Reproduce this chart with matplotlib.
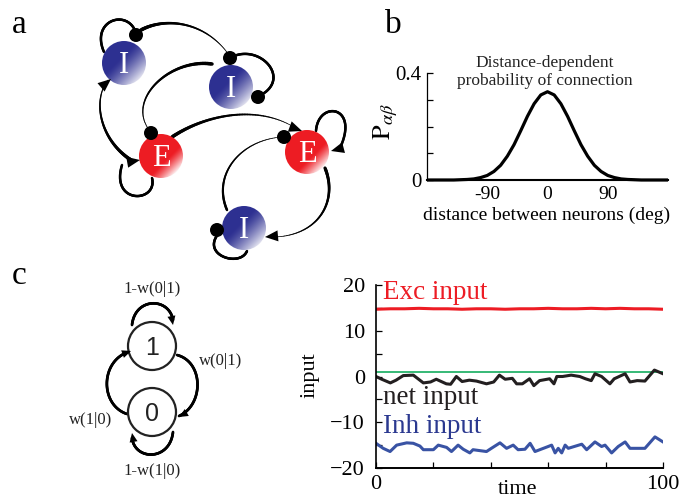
import numpy as np
import matplotlib
matplotlib.use('Agg')
import matplotlib.pyplot as plt
from matplotlib.patches import Circle, Polygon
from matplotlib.collections import LineCollection

plt.rcParams['font.family'] = ['Liberation Serif', 'DejaVu Serif']
plt.rcParams['mathtext.fontset'] = 'stix'
plt.rcParams['axes.unicode_minus'] = True

# ---------------- panel b data ----------------
dist_deg = [-180, -170, -160, -150, -140, -130, -120, -110, -100, -90, -80, -70, -60, -50, -40, -30, -20, -10,
            0, 10, 20, 30, 40, 50, 60, 70, 80, 90, 100, 110, 120, 130, 140, 150, 160, 170, 180]
p_conn = [0.0, 0.0, 0.0, 0.0, 0.0, 0.001, 0.002, 0.004, 0.009, 0.017, 0.032, 0.055, 0.089, 0.132, 0.184, 0.238,
          0.285, 0.318, 0.330, 0.318, 0.285, 0.238, 0.184, 0.132, 0.089, 0.055, 0.032, 0.017, 0.009, 0.004,
          0.002, 0.001, 0.0, 0.0, 0.0, 0.0, 0.0]
b_yticks = [0, 0.1, 0.2, 0.3, 0.4]
b_yticklabels = ['0', '', '', '', '0.4']
b_xticks = [-90, 0, 90]
b_xticklabels = ['-90', '0', '90']

# ---------------- panel d data ----------------
exc_t = [0, 5, 10, 15, 20, 25, 30, 35, 40, 45, 50, 55, 60, 65, 70, 75, 80, 85, 90, 95, 100]
exc_v = [14.7, 14.8, 14.8, 14.9, 14.8, 14.8, 14.7, 14.8, 14.8, 14.7, 14.8, 14.8, 14.9, 14.8, 14.8, 14.9,
         14.8, 14.9, 14.8, 14.8, 14.7]
net_t = [0, 2, 5, 7, 9.5, 13, 16.5, 19, 21, 24.5, 26, 28, 30, 32.5, 35, 38.5, 41, 43, 45, 47.5, 49, 51,
         53.5, 55, 57, 60.5, 62, 63, 65, 68, 71, 73, 75, 76.3, 78.6, 81.5, 83, 86.8, 88.5, 91, 93.7, 97, 100]
net_v = [0.0, -0.6, -1.4, -0.8, 0.2, 0.3, -1.4, -1.2, -0.6, -1.6, -1.7, 0.0, -1.1, -0.8, -1.0, -1.6, -1.2,
         0.3, -0.6, -0.4, -1.6, -1.6, -0.5, -2.0, -0.9, -0.5, -1.6, 0.0, 0.0, 0.3, 0.0, -0.5, -0.9, 0.6, 0.0,
         -1.6, -0.5, 0.6, -1.2, -0.9, -1.0, 1.4, 0.6]
inh_t = [0, 2.5, 4.9, 7.2, 10.7, 13, 15.3, 16.5, 20, 21.7, 24.6, 26.3, 28.6, 30.4, 32.7, 33.8, 38.5, 40.2,
         43.2, 45.5, 47.8, 49.5, 51.9, 53.7, 55.4, 60, 61.2, 62.4, 63.5, 64.7, 65.9, 67, 71.7, 73.4, 76.3,
         78.6, 79.8, 82.1, 84.4, 86.8, 88.5, 93.7, 97.2, 100]
inh_v = [-14.6, -15.7, -16.4, -15.0, -14.5, -14.6, -15.2, -16.0, -16.0, -15.0, -15.5, -16.4, -15.0, -15.9,
         -16.7, -16.0, -16.4, -15.7, -14.5, -15.7, -15.0, -16.0, -15.9, -14.6, -16.4, -15.3, -15.0, -16.7,
         -15.7, -16.7, -15.0, -15.7, -14.8, -16.0, -14.3, -15.3, -15.0, -16.7, -15.3, -14.3, -15.7, -15.7,
         -13.2, -14.3]
threshold = 1.0
d_xticks = [0, 20, 40, 60, 80, 100]
d_xticklabels = ['0', '', '', '', '', '100']
d_yticks = [-20, -15, -10, -5, 0, 5, 10, 15, 20]
d_yticklabels = ['\u221220', '', '\u221210', '', '0', '', '10', '', '20']

# ---------------- panel a diagram (pixel coords) ----------------
node_labels = ['I', 'I', 'E', 'E', 'I']
node_x = [124, 231, 161, 307, 244]
node_y = [63, 87, 156, 152, 228]
node_r = 22
# bezier edges: control points, start width, end width (px)
a_edges = [
    ([(104, 52), (90, 20), (128, 8), (136, 33)], 2.5, 2.5),
    ([(141, 30), (165, 17), (205, 21), (229, 55)], 3.5, 0.6),
    ([(234, 56), (262, 45), (292, 80), (259, 96)], 2.5, 2.5),
    ([(212, 64), (170, 58), (125, 100), (150, 131)], 3.5, 0.6),
    ([(131, 160), (100, 140), (92, 100), (108, 80)], 3.5, 0.6),
    ([(152, 178), (158, 203), (110, 205), (122, 165)], 2.5, 2.5),
    ([(172, 137), (205, 115), (255, 105), (292, 126)], 3.5, 0.6),
    ([(316, 131), (318, 100), (360, 105), (340, 148)], 2.5, 2.5),
    ([(227, 210), (212, 175), (240, 140), (282, 137)], 2.5, 0.6),
    ([(325, 168), (338, 200), (320, 235), (275, 237)], 3.2, 0.6),
    ([(219, 233), (200, 255), (240, 268), (247, 251)], 2.5, 2.5),
]
a_dots = [(136, 35), (230, 58), (258, 97), (151, 133), (284, 137), (217, 230)]
a_arrows = [(111, 79, -40), (140, 160, -10), (302, 131, 20), (331, 151, 165), (265, 237, 175)]

# ---------------- panel c diagram ----------------
state_labels = ['1', '0']
state_x = [152, 152]
state_y = [346, 412]
state_r = 24
c_edges = [
    [(127, 414), (100, 405), (100, 362), (128, 352)],
    [(177, 355), (204, 362), (204, 405), (179, 416)],
    [(132, 325), (135, 297), (169, 297), (173, 320)],
    [(173, 432), (170, 461), (135, 461), (132, 438)],
]
c_arrows = [(131, 351, -20), (179, 417, 150), (173, 325, 80), (132, 433, -100)]
c_texts = [('1-w(0|1)', 152, 289), ('w(0|1)', 221, 361), ('w(1|0)', 91, 420), ('1-w(1|0)', 152, 471)]

W, H = 681, 504
fig = plt.figure(figsize=(W / 100, H / 100), dpi=100)
ov = fig.add_axes([0, 0, 1, 1])
ov.set_xlim(0, W)
ov.set_ylim(H, 0)
ov.axis('off')


def bez(P, n=80):
    P = np.asarray(P, float)
    t = np.linspace(0, 1, n)[:, None]
    return ((1 - t) ** 3 * P[0] + 3 * (1 - t) ** 2 * t * P[1] + 3 * (1 - t) * t ** 2 * P[2] + t ** 3 * P[3])


def curve(ax, P, w0, w1, z=2):
    pts = bez(P)
    segs = np.stack([pts[:-1], pts[1:]], axis=1)
    lw = np.linspace(w0, w1, len(segs)) * 0.72
    ax.add_collection(LineCollection(segs, linewidths=lw, colors='black', capstyle='round', zorder=z))


def arrowhead(ax, x, y, ang, L=13, Wd=11):
    a = np.deg2rad(ang)
    d = np.array([np.cos(a), np.sin(a)])
    n = np.array([-d[1], d[0]])
    tip = np.array([x, y], float)
    base = tip - d * L
    ax.add_patch(Polygon([tip, base + n * Wd / 2, base - n * Wd / 2], closed=True, fc='black', ec='none', zorder=6))


def ball(ax, cx, cy, r, base, s0, wmax, gamma):
    n = 160
    u = np.linspace(-1, 1, n)
    X, Y = np.meshgrid(u, u)
    s = (X + Y) / np.sqrt(2)
    w = np.clip((s - s0) / (1 - s0), 0, 1) ** gamma * wmax
    rgb = np.array(base)[None, None, :] * (1 - w[..., None]) + w[..., None]
    im = ax.imshow(rgb, extent=(cx - r, cx + r, cy + r, cy - r), origin='upper',
                   interpolation='bilinear', zorder=4, aspect='auto')
    im.set_clip_path(Circle((cx, cy), r, transform=ax.transData))


# panel a
for P, w0, w1 in a_edges:
    curve(ov, P, w0, w1)
for lab, x, y in zip(node_labels, node_x, node_y):
    if lab == 'E':
        ball(ov, x, y, node_r, (0.93, 0.11, 0.14), 0.3, 0.92, 1.2)
    else:
        ball(ov, x, y, node_r, (0.18, 0.19, 0.57), -0.25, 0.85, 1.3)
    ov.text(x, y + 10, lab, color='white', fontsize=22, ha='center', va='baseline', zorder=7)
for x, y in a_dots:
    ov.add_patch(Circle((x, y), 7, fc='black', ec='none', zorder=6))
for x, y, ang in a_arrows:
    arrowhead(ov, x, y, ang)
ov.set_xlim(0, W)
ov.set_ylim(H, 0)

# panel c
for P in c_edges:
    curve(ov, P, 2.7, 2.7)
for x, y, ang in c_arrows:
    arrowhead(ov, x, y, ang, L=9, Wd=8)
for lab, x, y in zip(state_labels, state_x, state_y):
    ov.add_patch(Circle((x, y), state_r, fc='white', ec='#222222', lw=1.6, zorder=4))
    ov.text(x, y + 9, lab, family=['Liberation Sans', 'DejaVu Sans'], fontsize=18, color='#222222',
            ha='center', va='baseline', zorder=7)
for s, x, y in c_texts:
    ov.text(x, y, s, fontsize=12, color='#222222', ha='center', va='center')

# panel letters
ov.text(12, 33, 'a', fontsize=24, va='baseline')
ov.text(385, 33, 'b', fontsize=24, va='baseline')
ov.text(12, 284, 'c', fontsize=24, va='baseline')

# panel b
axb = fig.add_axes([427 / W, 1 - 180 / H, (668 - 427) / W, (180 - 73) / H])
axb.set_facecolor('none')
axb.plot(dist_deg, p_conn, color='black', lw=2.3, solid_capstyle='butt', clip_on=False)
axb.set_xlim(-180, 180)
axb.set_ylim(0, 0.4)
for sp in ['top', 'right']:
    axb.spines[sp].set_visible(False)
axb.spines['left'].set_linewidth(0.9)
axb.spines['bottom'].set_linewidth(1.5)
axb.set_yticks(b_yticks)
axb.set_yticklabels(b_yticklabels)
axb.set_xticks(b_xticks)
axb.set_xticklabels(b_xticklabels)
axb.tick_params(axis='y', direction='in', length=4, width=0.9, labelsize=15, pad=4)
axb.tick_params(axis='x', length=0, labelsize=14, pad=4)
ov.text(545, 72, 'Distance-dependent\nprobability of connection', fontsize=12.5, ha='center', va='center',
        linespacing=1.15, color='#222222')
ov.text(547, 215, 'distance between neurons (deg)', fontsize=14, ha='center', va='center')
ov.text(386, 122, r'$\mathrm{P}_{\alpha\beta}$', fontsize=19, ha='center', va='center', rotation=90)

# panel d
axd = fig.add_axes([376 / W, 1 - 468 / H, (663 - 376) / W, (468 - 285) / H])
axd.set_facecolor('none')
axd.axhline(threshold, color='#00a651', lw=1.1, zorder=1)
axd.plot(exc_t, exc_v, color='#ed1c24', lw=2.2)
axd.plot(net_t, net_v, color='#231f20', lw=2.2)
axd.plot(inh_t, inh_v, color='#3953a4', lw=2.2)
axd.set_xlim(0, 100)
axd.set_ylim(-20, 20)
for sp in ['top', 'right']:
    axd.spines[sp].set_visible(False)
axd.spines['left'].set_linewidth(1.2)
axd.spines['bottom'].set_linewidth(1.4)
axd.set_xticks(d_xticks)
axd.set_xticklabels(d_xticklabels)
axd.set_yticks(d_yticks)
axd.set_yticklabels(d_yticklabels)
axd.tick_params(direction='in', length=4, width=0.9, labelsize=16)
axd.tick_params(axis='y', pad=8)
axd.tick_params(axis='x', pad=5)
axd.text(2.5, 16.9, 'Exc input', color='#ed1c24', fontsize=19.5, va='baseline')
axd.text(2.5, -6.0, 'net input', color='#231f20', fontsize=19.5, va='baseline')
axd.text(2.5, -12.3, 'Inh input', color='#2b3990', fontsize=19.5, va='baseline')
ov.text(310, 375, 'input', fontsize=16, rotation=90, ha='center', va='center')
ov.text(518, 490, 'time', fontsize=16, ha='center', va='center')

fig.savefig('out.png', dpi=100)
